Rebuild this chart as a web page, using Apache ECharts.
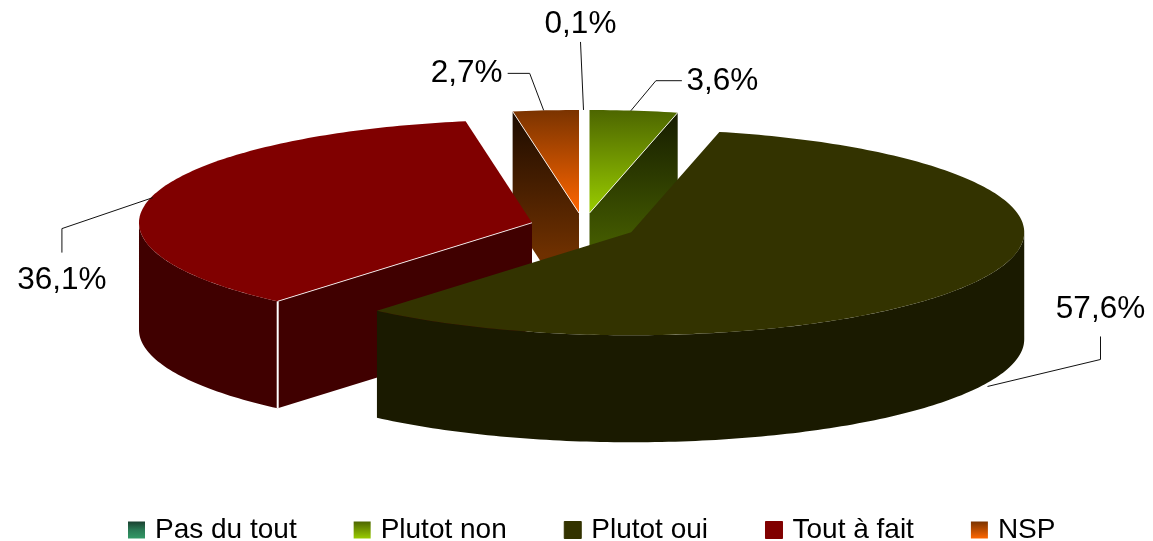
<!DOCTYPE html>
<html>
<head>
<meta charset="utf-8">
<style>html,body{margin:0;padding:0;background:#fff}#c{width:1153px;height:541px}</style>
<script src="https://cdn.jsdelivr.net/npm/echarts@6/dist/echarts.min.js"></script>
</head>
<body>
<div id="c"></div>
<script>
// ---- data ----
var categories = ['Pas du tout', 'Plutot non', 'Plutot oui', 'Tout à fait', 'NSP'];
var shares = [0.1, 3.6, 57.6, 36.1, 2.7];
var shareLabels = ['0,1%', '3,6%', '57,6%', '36,1%', '2,7%'];

// ---- styling ----
var FONT = '"Liberation Sans", Arial, Helvetica, sans-serif';
function vgrad(stops) {
  return {type: 'linear', x: 0, y: 0, x2: 0, y2: 1, global: false,
    colorStops: stops.map(function (s) { return {offset: s[0], color: s[1]}; })};
}
var topFill = [
  vgrad([[0, '#1f4a3a'], [1, '#339966']]),
  vgrad([[0, '#4d6600'], [1, '#99cc00']]),
  '#333300',
  '#800000',
  vgrad([[0, '#7a3300'], [1, '#ff6600']])
];
var wallFill = [
  '#1a4d33',
  vgrad([[0, '#161c00'], [0.62, '#435a00'], [1, '#4d6600']]),
  '#1a1a00',
  '#400000',
  vgrad([[0, '#1c0b00'], [0.68, '#6e3000'], [1, '#7a3300']])
];
var legendFill = [
  vgrad([[0, '#1a4030'], [0.5, '#2a7a55'], [1, '#339966']]),
  vgrad([[0, '#4d6600'], [1, '#99cc00']]),
  '#333300',
  '#800000',
  vgrad([[0, '#7a3300'], [1, '#ff6600']])
];
var drawOrder = [1, 1, 4, 3, 2];
var MIN_VISIBLE_SHARE = 0.5; // slivers this thin take no angle in the source rendering

// ---- layout of the tilted pie ----
var pie = {cx: 583.5, cy: 226.3, rx: 393, ry: 103, depth: 107, explode: 53.4, explodeTilt: 0.25};
// label text centre and leader points, relative to the slice's rim anchor
var labelLayout = [
  {tx: -3, ty: -86, leader: [[0, 0], [-3, -68]]},
  {tx: 88.6, ty: -29.5, leader: [[-3, 0], [22, -30], [48, -30]]},
  {tx: 118, ty: -76, leader: [[5, 1], [118, -26], [118, -49]]},
  {tx: -91, ty: 85, leader: [[0, 2], [-91, 33], [-91, 57]]},
  {tx: -79, ty: -37, leader: [[-2, 0], [-16, -37], [-38, -37]]}
];

var drawnShares = shares.map(function (v) { return v >= MIN_VISIBLE_SHARE ? v : 0; });
var total = drawnShares.reduce(function (a, b) { return a + b; }, 0);
var rad = Math.PI / 180;

function slice(i) {
  var before = 0;
  for (var k = 0; k < i; k++) before += drawnShares[k];
  var a0 = before / total * 360, a1 = (before + drawnShares[i]) / total * 360, mid = (a0 + a1) / 2;
  return {
    a0: a0, a1: a1, mid: mid,
    ax: pie.cx + pie.explode * Math.sin(mid * rad),
    ay: pie.cy - pie.explode * pie.explodeTilt * Math.cos(mid * rad)
  };
}
function rim(s, a, dy) {
  return [s.ax + pie.rx * Math.sin(a * rad), s.ay - pie.ry * Math.cos(a * rad) + (dy || 0)];
}
function arcPts(s, from, to, dy) {
  var pts = [], n = Math.max(2, Math.ceil(Math.abs(to - from)));
  for (var j = 0; j <= n; j++) pts.push(rim(s, from + (to - from) * j / n, dy));
  return pts;
}

function renderSlice(params, api) {
  var i = params.seriesIndex, s = slice(i), kids = [];
  var st = api.value(0);
  if (st >= MIN_VISIBLE_SHARE) {
    // outer wall: only the part of the rim facing the viewer
    var w0 = Math.max(s.a0, 90), w1 = Math.min(s.a1, 270), hasOuter = w1 > w0;
    if (hasOuter) {
      kids.push({type: 'polygon', shape: {points: arcPts(s, w0, w1, 0).concat(arcPts(s, w1, w0, pie.depth))},
        style: {fill: wallFill[i]}});
    }
    // cut walls facing the viewer
    var rays = [];
    if (Math.sin(s.a0 * rad) < -1e-6) rays.push(s.a0);
    if (Math.sin(s.a1 * rad) > 1e-6) rays.push(s.a1);
    rays.forEach(function (a) {
      var e = rim(s, a);
      kids.push({type: 'polygon', shape: {points: [[s.ax, s.ay], e, [e[0], e[1] + pie.depth], [s.ax, s.ay + pie.depth]]},
        style: {fill: wallFill[i]}});
      if (hasOuter) {
        kids.push({type: 'line', shape: {x1: e[0], y1: e[1], x2: e[0], y2: e[1] + pie.depth},
          style: {stroke: '#fff', lineWidth: 2}});
      }
    });
    // top face
    kids.push({type: 'polygon', shape: {points: [[s.ax, s.ay]].concat(arcPts(s, s.a0, s.a1, 0))},
      style: {fill: topFill[i]}});
    rays.forEach(function (a) {
      var e = rim(s, a);
      kids.push({type: 'line', shape: {x1: s.ax, y1: s.ay, x2: e[0], y2: e[1]},
        style: {stroke: 'rgba(255,255,255,0.85)', lineWidth: 1}});
    });
  }
  // leader line + label
  var L = labelLayout[i];
  var anchor = rim(s, s.mid, (s.mid > 90 && s.mid < 270) ? pie.depth : 0);
  kids.push({type: 'polyline', shape: {points: L.leader.map(function (p) { return [anchor[0] + p[0], anchor[1] + p[1]]; })},
    style: {stroke: '#111', lineWidth: 1, fill: null}, z2: 20});
  kids.push({type: 'text', style: {text: shareLabels[i], x: anchor[0] + L.tx, y: anchor[1] + L.ty,
    font: '31.5px ' + FONT, fill: '#000', align: 'center', verticalAlign: 'middle'}, z2: 20});
  return {type: 'group', children: kids};
}

var chart = echarts.init(document.getElementById('c'), null, {renderer: 'canvas'});
chart.setOption({
  backgroundColor: '#fff',
  animation: false,
  legend: {
    left: 128, top: 516, padding: 0, itemWidth: 17, itemHeight: 17, itemGap: 57, selectedMode: false,
    textStyle: {fontFamily: FONT, fontSize: 28, color: '#000', padding: [0, 0, 0, 5]},
    data: categories.map(function (c, i) {
      var solid = typeof legendFill[i] === 'string';
      return {name: c, icon: 'rect', itemStyle: solid
        ? {color: legendFill[i], borderColor: legendFill[i], borderWidth: 1}
        : {color: legendFill[i], borderWidth: 0}};
    })
  },
  series: categories.map(function (c, i) {
    return {type: 'custom', name: c, coordinateSystem: 'none', silent: true, z: drawOrder[i],
      clip: false, itemStyle: {color: typeof legendFill[i] === 'string' ? legendFill[i] : '#888'},
      renderItem: renderSlice, data: [[shares[i]]]};
  })
});
</script>
</body>
</html>
